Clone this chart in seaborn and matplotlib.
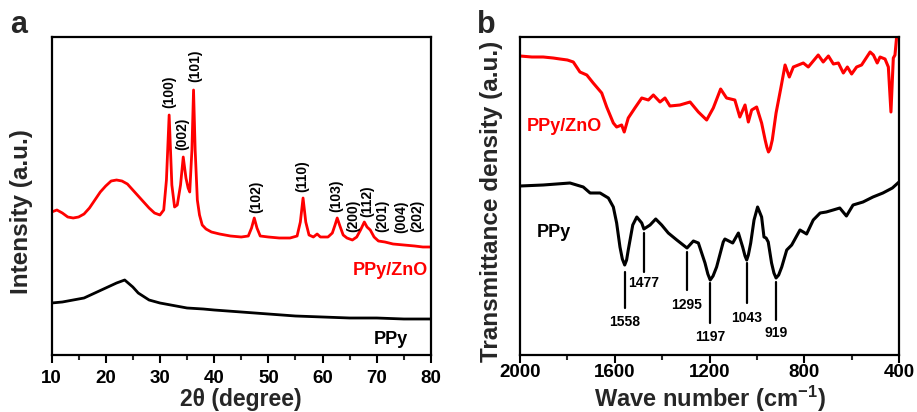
import matplotlib
matplotlib.use("Agg")
import matplotlib.pyplot as plt
import seaborn as sns
import pandas as pd

# ---------------- Panel a: XRD ----------------
xrd_2theta_ppyzno = [10, 11, 12, 13, 14, 15, 16, 17, 18, 19, 20, 21, 22, 23, 24, 25, 26, 27, 28, 29, 30,
                     30.7, 31.2, 31.7, 32.2, 32.7, 33.2, 33.8, 34.3, 34.8, 35.2, 35.5, 35.9, 36.2, 36.5,
                     36.9, 37.3, 37.8, 38.5, 39.5, 41, 43, 45, 46.3, 46.9, 47.4, 47.9, 48.5, 50, 52, 54,
                     55.3, 55.9, 56.4, 56.9, 57.5, 58.3, 59, 59.6, 61, 61.8, 62.3, 62.7, 63.2, 63.8, 64.5,
                     65.5, 66.3, 67, 67.7, 68.2, 68.8, 69.5, 70.3, 71.5, 73, 75, 77, 78.5, 80]
xrd_int_ppyzno = [143, 145, 142, 138, 137, 138, 141, 147, 155, 163, 169, 174, 175, 174, 171, 165, 159, 153, 147, 142, 140,
                  145, 175, 240, 170, 148, 150, 170, 198, 177, 167, 163, 205, 265, 205,
                  155, 140, 130, 126, 123, 121, 119, 118, 119, 127, 137, 127, 119, 118, 117, 117,
                  119, 133, 157, 133, 120, 118, 121, 118, 118, 122, 130, 137, 129, 120, 117,
                  115, 118, 125, 133, 128, 125, 118, 114, 113, 111, 110, 109, 108, 108]

xrd_2theta_ppy = [10, 12, 14, 16, 18, 20, 22, 23.5, 25, 26, 28, 30, 32, 35, 38, 40, 45, 50, 55, 60, 65, 70, 75, 80]
xrd_int_ppy = [52, 53, 55, 57, 62, 67, 72, 75, 68, 62, 55, 52, 50, 47, 46, 45, 43, 41, 39, 38, 37, 37, 36, 36]

hkl_labels = ['(100)', '(002)', '(101)', '(102)', '(110)', '(103)', '(200)', '(112)', '(201)', '(004)', '(202)']
hkl_2theta = [31.7, 34.1, 36.6, 47.85, 56.3, 62.6, 65.7, 68.3, 71.1, 74.6, 77.4]
hkl_label_base = [247, 205, 273, 142, 163, 143, 123, 138, 123, 122, 123]

# ---------------- Panel b: FTIR ----------------
ftir_wn_ppyzno = [2000, 1950, 1902, 1860, 1831, 1800, 1775, 1747, 1718, 1691, 1655, 1634, 1606, 1592, 1571,
                  1560, 1543, 1515, 1486, 1458, 1437, 1409, 1388, 1367, 1325, 1282, 1247, 1212, 1184, 1153,
                  1128, 1093, 1072, 1050, 1036, 1022, 1001, 980, 965, 958, 951, 944, 935, 919, 898, 881, 863, 846,
                  804, 783, 741, 720, 698, 677, 656, 635, 618, 600, 579, 558, 522, 508, 492, 480, 459,
                  445, 434, 424, 417, 410, 400]
ftir_t_ppyzno = [299, 298, 298, 297, 296, 295, 293, 283, 280, 272, 262, 248, 232, 228, 230,
                 223, 237, 247, 257, 255, 260, 253, 257, 249, 250, 253, 243, 235, 247, 266,
                 257, 255, 238, 250, 233, 245, 248, 232, 215, 208, 203, 206, 215, 242, 268, 290, 278, 288,
                 292, 288, 300, 293, 299, 291, 292, 282, 288, 281, 288, 290, 303, 300, 292, 298, 296,
                 288, 243, 297, 300, 318, 325]

ftir_wn_ppy = [2000, 1902, 1789, 1733, 1704, 1662, 1627, 1606, 1592, 1578, 1568, 1558, 1550, 1543, 1524,
               1507, 1486, 1477, 1451, 1427, 1402, 1374, 1338, 1295, 1268, 1247, 1219, 1207, 1197, 1185,
               1170, 1142, 1135, 1102, 1078, 1060, 1050, 1043, 1036, 1026, 1012, 997, 980, 970, 961, 952,
               938, 928, 919, 908, 895, 874, 853, 818, 790, 762, 733, 707, 678, 650, 622, 594, 552, 510,
               468, 428, 400]
ftir_t_ppy = [169, 170, 172, 168, 162, 162, 157, 148, 132, 108, 96, 90, 95, 105, 130,
              138, 132, 126, 130, 136, 130, 122, 115, 107, 114, 112, 92, 81, 75, 79,
              88, 113, 116, 112, 122, 108, 99, 95, 100, 112, 135, 148, 138, 118, 117, 113,
              92, 82, 77, 80, 88, 105, 110, 125, 121, 135, 142, 143, 145, 147, 139, 150, 153, 158,
              162, 167, 173]

ftir_peaks = [1558, 1477, 1295, 1197, 1043, 919]
ftir_peak_labels = ['1558', '1477', '1295', '1197', '1043', '919']
# layout of marker lines (top, bottom) and label centre heights
peak_line_top = [83, 122, 103, 72, 92, 73]
peak_line_bot = [47, 83, 65, 32, 52, 35]
peak_label_y = [33, 72, 50, 18, 37, 22]

RED = '#ff0000'

sns.set_style("white")
plt.rcParams['font.family'] = ['Liberation Sans', 'DejaVu Sans']
plt.rcParams['font.weight'] = 'bold'
plt.rcParams['axes.labelweight'] = 'bold'
plt.rcParams['mathtext.fontset'] = 'custom'
plt.rcParams['mathtext.rm'] = 'Liberation Sans:bold'
plt.rcParams['mathtext.bf'] = 'Liberation Sans:bold'
plt.rcParams['mathtext.it'] = 'Liberation Sans:bold'
plt.rcParams['mathtext.default'] = 'bf'

fig = plt.figure(figsize=(9.17, 4.12), dpi=100)
ax_a = fig.add_axes([51.5 / 917, 1 - 355 / 412, 379.5 / 917, 318 / 412])
ax_b = fig.add_axes([520 / 917, 1 - 355 / 412, 379 / 917, 318 / 412])

df_a1 = pd.DataFrame({'x': xrd_2theta_ppyzno, 'y': xrd_int_ppyzno})
df_a2 = pd.DataFrame({'x': xrd_2theta_ppy, 'y': xrd_int_ppy})
sns.lineplot(data=df_a1, x='x', y='y', ax=ax_a, color=RED, linewidth=2.0, estimator=None)
sns.lineplot(data=df_a2, x='x', y='y', ax=ax_a, color='black', linewidth=2.0, estimator=None)

df_b1 = pd.DataFrame({'x': ftir_wn_ppyzno, 'y': ftir_t_ppyzno})
df_b2 = pd.DataFrame({'x': ftir_wn_ppy, 'y': ftir_t_ppy})
sns.lineplot(data=df_b1, x='x', y='y', ax=ax_b, color=RED, linewidth=2.2, estimator=None)
sns.lineplot(data=df_b2, x='x', y='y', ax=ax_b, color='black', linewidth=2.2, estimator=None)

for ax in (ax_a, ax_b):
    for s in ax.spines.values():
        s.set_visible(True)
        s.set_linewidth(1.6)
        s.set_color('black')
    ax.set_ylim(0, 318)
    ax.set_yticks([])
    ax.tick_params(axis='x', which='major', direction='out', length=6, width=1.5,
                   labelsize=13.5, bottom=True, top=False, colors='black')
    ax.tick_params(axis='x', which='minor', direction='out', length=3.5, width=1.5,
                   bottom=True, top=False)
    for lab in ax.get_xticklabels():
        lab.set_fontweight('bold')

ax_a.set_xlim(10, 80)
ax_a.set_xticks([10, 20, 30, 40, 50, 60, 70, 80])
ax_a.set_xticks([15, 25, 35, 45, 55, 65, 75], minor=True)
ax_a.tick_params(axis='x', which='major', pad=5)
ax_a.set_xlabel('2θ (degree)', fontsize=16.5, fontweight='bold')
ax_a.set_ylabel('Intensity (a.u.)', fontsize=17.5, fontweight='bold')
ax_a.xaxis.set_label_coords(0.5, -0.105)
ax_a.yaxis.set_label_coords(-0.049, 0.45)

for lab, x, yb in zip(hkl_labels, hkl_2theta, hkl_label_base):
    ax_a.text(x, yb, lab, rotation=90, ha='center', va='bottom', fontsize=10,
              fontweight='bold', color='black')
ax_a.text(0.992, 0.267, 'PPy/ZnO', transform=ax_a.transAxes, ha='right', va='center',
          fontsize=13, fontweight='bold', color=RED)
ax_a.text(0.939, 0.050, 'PPy', transform=ax_a.transAxes, ha='right', va='center',
          fontsize=13, fontweight='bold', color='black')

ax_b.set_xlim(2000, 400)
ax_b.set_xticks([2000, 1600, 1200, 800, 400])
ax_b.set_xticks([1800, 1400, 1000, 600], minor=True)
ax_b.tick_params(axis='x', which='major', pad=0.5)
ax_b.set_xlabel('Wave number (cm$^{-1}$)', fontsize=17, fontweight='bold')
ax_b.set_ylabel('Transmittance density (a.u.)', fontsize=17.5, fontweight='bold')
ax_b.xaxis.set_label_coords(0.5, -0.09)
ax_b.yaxis.set_label_coords(-0.045, 0.484)

for wn, lab, yt, yb, yl in zip(ftir_peaks, ftir_peak_labels, peak_line_top, peak_line_bot, peak_label_y):
    ax_b.plot([wn, wn], [yb, yt], color='black', linewidth=1.6)
    ax_b.text(wn, yl, lab, ha='center', va='center', fontsize=10, fontweight='bold', color='black')

ax_b.text(0.018, 0.72, 'PPy/ZnO', transform=ax_b.transAxes, ha='left', va='center',
          fontsize=13, fontweight='bold', color=RED)
ax_b.text(0.045, 0.384, 'PPy', transform=ax_b.transAxes, ha='left', va='center',
          fontsize=13, fontweight='bold', color='black')

fig.text(10 / 917, 1 - 33 / 412, 'a', fontsize=22, fontweight='bold', ha='left', va='baseline')
fig.text(477 / 917, 1 - 33 / 412, 'b', fontsize=22, fontweight='bold', ha='left', va='baseline')

fig.savefig('out.png', dpi=100)
